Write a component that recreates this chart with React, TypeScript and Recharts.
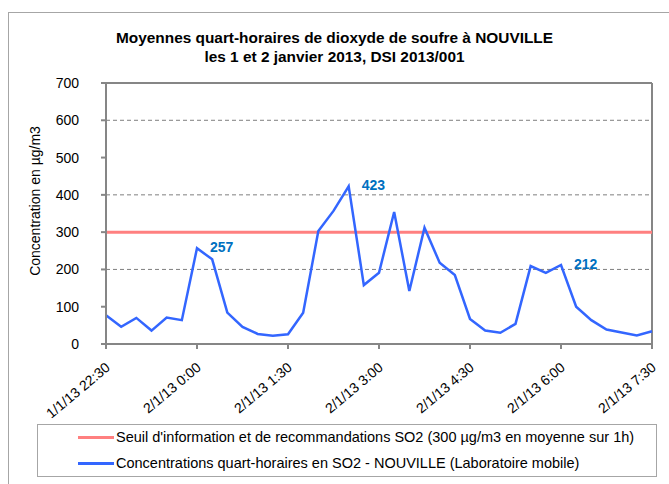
import { LabelList, Line, LineChart, ReferenceLine, XAxis, YAxis } from "recharts";

const times = [
  "1/1/13 22:30", "1/1/13 22:45", "1/1/13 23:00", "1/1/13 23:15", "1/1/13 23:30", "1/1/13 23:45",
  "2/1/13 0:00", "2/1/13 0:15", "2/1/13 0:30", "2/1/13 0:45", "2/1/13 1:00", "2/1/13 1:15",
  "2/1/13 1:30", "2/1/13 1:45", "2/1/13 2:00", "2/1/13 2:15", "2/1/13 2:30", "2/1/13 2:45",
  "2/1/13 3:00", "2/1/13 3:15", "2/1/13 3:30", "2/1/13 3:45", "2/1/13 4:00", "2/1/13 4:15",
  "2/1/13 4:30", "2/1/13 4:45", "2/1/13 5:00", "2/1/13 5:15", "2/1/13 5:30", "2/1/13 5:45",
  "2/1/13 6:00", "2/1/13 6:15", "2/1/13 6:30", "2/1/13 6:45", "2/1/13 7:00", "2/1/13 7:15",
  "2/1/13 7:30",
];

const so2 = [
  77, 46, 70, 36, 71, 64, 257, 227, 84, 46, 27, 22,
  26, 84, 303, 357, 423, 158, 191, 354, 142, 312, 218, 185,
  67, 36, 30, 54, 209, 191, 212, 100, 64, 39, 31, 23,
  34,
];

const labelledPeaks = [6, 16, 30];
const yTicks = [0, 100, 200, 300, 400, 500, 600, 700];
const gridValues = [200, 400, 600];
const THRESHOLD = 300;

const data = times.map((t, i) => ({ t, so2: so2[i] }));

const font = "'Liberation Sans', Arial, sans-serif";
const axisGray = "#868686";

function XTick(props: any) {
  const { x, y, payload } = props;
  const ax = x + 5;
  const ay = y + 18;
  return (
    <text x={ax} y={ay} textAnchor="end" fontSize={14} fontFamily={font} fill="#000" transform={`rotate(-40 ${ax} ${ay})`}>
      {payload.value}
    </text>
  );
}

function PeakLabel(props: any) {
  const { x, y, index, value } = props;
  if (!labelledPeaks.includes(index)) return null;
  return (
    <text x={x + 13} y={y} dominantBaseline="middle" fontSize={14} fontWeight="bold" fontFamily={font} fill="#0070C0">
      {value}
    </text>
  );
}

export default function App() {
  return (
    <div style={{ position: "absolute", left: 0, top: 0, width: 669, height: 484, overflow: "hidden", background: "#fff", fontFamily: font }}>
      <div style={{ position: "absolute", left: 8, top: 12, width: 700, height: 520, border: "1px solid #a6a6a6" }} />
      <div style={{ position: "absolute", left: 0, top: 28, width: 669, textAlign: "center", fontWeight: "bold", fontSize: 15.4, lineHeight: "19px", color: "#000" }}>
        Moyennes quart-horaires de dioxyde de soufre à NOUVILLE
        <br />
        les 1 et 2 janvier 2013, DSI 2013/001
      </div>
      <div
        style={{
          position: "absolute",
          left: 35,
          top: 201,
          transform: "translate(-50%, -50%) rotate(-90deg)",
          whiteSpace: "nowrap",
          fontSize: 14,
          color: "#000",
        }}
      >
        Concentration en µg/m3
      </div>
      <LineChart
        width={669}
        height={484}
        data={data}
        margin={{ top: 83, right: 17, left: 46, bottom: 60 }}
        style={{ position: "absolute", left: 0, top: 0 }}
      >
        {gridValues.map((v) => (
          <ReferenceLine key={v} y={v} stroke="#7f7f7f" strokeDasharray="4 3" strokeWidth={1} />
        ))}
        <ReferenceLine y={700} stroke={axisGray} strokeWidth={2} />
        <ReferenceLine x={times[times.length - 1]} stroke={axisGray} strokeWidth={2} />
        <XAxis
          dataKey="t"
          interval={5}
          height={80}
          stroke={axisGray}
          strokeWidth={2}
          tickSize={5}
          tick={<XTick />}
        />
        <YAxis
          width={60}
          domain={[0, 700]}
          ticks={yTicks}
          stroke={axisGray}
          strokeWidth={2}
          tickSize={5}
          tick={{ fill: "#000", fontSize: 14, fontFamily: font, dx: -20 }}
        />
        <ReferenceLine y={THRESHOLD} stroke="#FF8080" strokeWidth={3} />
        <Line
          type="linear"
          dataKey="so2"
          stroke="#3366FF"
          strokeWidth={2.5}
          dot={false}
          isAnimationActive={false}
        >
          <LabelList dataKey="so2" content={<PeakLabel />} />
        </Line>
      </LineChart>
      <div style={{ position: "absolute", left: 37, top: 424, width: 620, height: 53, border: "1px solid #a6a6a6", boxSizing: "border-box", fontSize: 14.5, color: "#000" }}>
        <div style={{ position: "absolute", left: 40, top: 3, height: 18, display: "flex", alignItems: "center", whiteSpace: "nowrap" }}>
          <span style={{ display: "inline-block", width: 36, height: 3, background: "#FF8080", marginRight: 2 }} />
          Seuil d'information et de recommandations SO2 (300 µg/m3 en moyenne sur 1h)
        </div>
        <div style={{ position: "absolute", left: 40, top: 29, height: 18, display: "flex", alignItems: "center", whiteSpace: "nowrap" }}>
          <span style={{ display: "inline-block", width: 36, height: 3, background: "#3366FF", marginRight: 2 }} />
          Concentrations quart-horaires en SO2 - NOUVILLE (Laboratoire mobile)
        </div>
      </div>
    </div>
  );
}
